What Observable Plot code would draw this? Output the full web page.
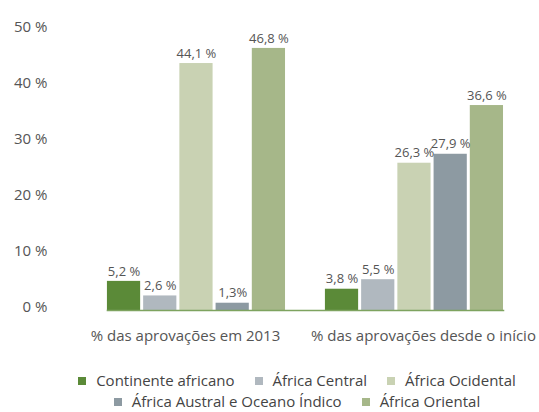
<!DOCTYPE html>
<html>
<head>
<meta charset="utf-8">
<script src="https://cdn.jsdelivr.net/npm/d3@7"></script>
<script src="https://cdn.jsdelivr.net/npm/@observablehq/plot@0.6"></script>
<style>
  body { margin: 0; background: #fff; font-family: "Open Sans", sans-serif; }
  #chart { width: 539px; }
  .legend { width: 539px; box-sizing: border-box; padding-left: 55px; margin-top: 25px; color: #444; font-size: 15px; }
  .row { display: flex; justify-content: center; gap: 20px; line-height: 21px; }
  .item { display: flex; align-items: center; white-space: nowrap; }
  .sw { width: 8px; height: 8px; margin-right: 10px; display: inline-block; }
</style>
</head>
<body>
<div id="chart"></div>
<script>
const categories = ["% das aprovações em 2013", "% das aprovações desde o início"];
const series = ["Continente africano", "África Central", "África Ocidental", "África Austral e Oceano Índico", "África Oriental"];
const values2013 = [5.2, 2.6, 44.1, 1.3, 46.8];
const valuesInicio = [3.8, 5.5, 26.3, 27.9, 36.6];
const labels2013 = ["5,2 %", "2,6 %", "44,1 %", "1,3%", "46,8 %"];
const labelsInicio = ["3,8 %", "5,5 %", "26,3 %", "27,9 %", "36,6 %"];
const yTicks = [0, 10, 20, 30, 40, 50];
const colors = ["#5b8a38", "#b0b8bf", "#c9d2b3", "#8d9aa2", "#a6b789"];
const legendRows = [[0, 1, 2], [3, 4]];

const data = [];
series.forEach((s, i) => data.push({group: categories[0], series: s, value: values2013[i], label: labels2013[i]}));
series.forEach((s, i) => data.push({group: categories[1], series: s, value: valuesInicio[i], label: labelsInicio[i]}));

const groupLabel = (cat, shift) => Plot.text([cat], {
  fx: d => d, text: d => d, frameAnchor: "bottom", lineAnchor: "top",
  dy: 20, dx: shift, fill: "#555", fontSize: 15
});

const chart = Plot.plot({
  width: 539,
  height: 345,
  marginTop: 30,
  marginBottom: 35,
  marginLeft: 55,
  marginRight: 9,
  style: {fontFamily: "'Open Sans', sans-serif", fontSize: "13px", color: "#555", background: "#fff"},
  fx: {domain: categories, paddingInner: 0.183, paddingOuter: 0.181, align: 0.658, round: false, label: null, axis: null},
  x: {domain: series, paddingInner: 0.083, paddingOuter: 0, round: false, axis: null},
  y: {domain: [0, 50], axis: null},
  color: {domain: series, range: colors},
  marks: [
    Plot.barY(data, {fx: "group", x: "series", y: "value", fill: "series"}),
    Plot.text(data, {fx: "group", x: "series", y: "value", text: "label", dy: -10, fill: "#555", fontSize: 13}),
    Plot.frame({anchor: "bottom", facet: "super", stroke: "#7ea35f", strokeWidth: 1.5}),
    Plot.text(yTicks, {y: d => d, text: d => `${d} %`, frameAnchor: "left", textAnchor: "end", dx: -60, dy: -3, fill: "#555", fontSize: 15, facetAnchor: "left"}),
    groupLabel(categories[0], -11),
    groupLabel(categories[1], 9)
  ]
});
document.getElementById("chart").appendChild(chart);

const legend = document.createElement("div");
legend.className = "legend";
legendRows.forEach(r => {
  const row = document.createElement("div");
  row.className = "row";
  r.forEach(i => {
    const item = document.createElement("span");
    item.className = "item";
    const sw = document.createElement("span");
    sw.className = "sw";
    sw.style.background = colors[i];
    item.appendChild(sw);
    item.appendChild(document.createTextNode(series[i]));
    row.appendChild(item);
  });
  legend.appendChild(row);
});
document.body.appendChild(legend);
</script>
</body>
</html>
